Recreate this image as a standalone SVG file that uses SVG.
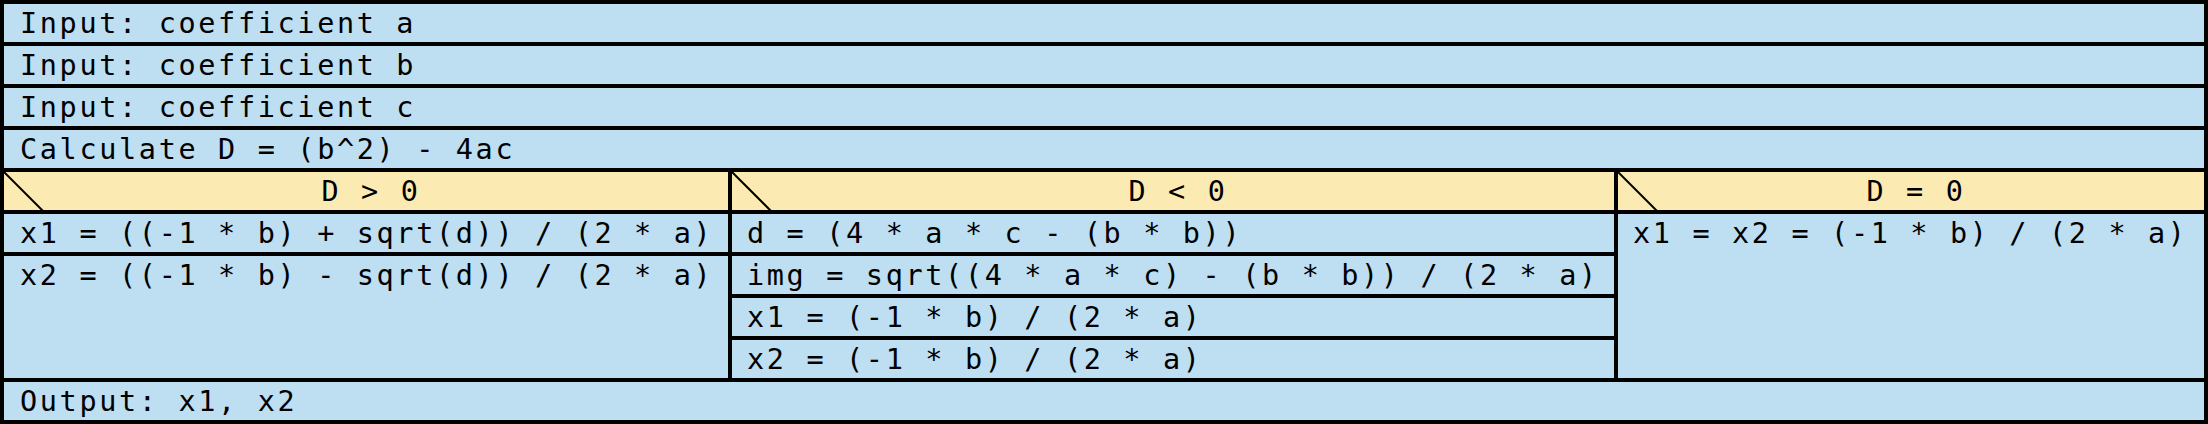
<svg xmlns="http://www.w3.org/2000/svg" width="2208" height="424" viewBox="0 0 2208 424">
<style>
.b{fill:#BEDEF2}
.y{fill:#FBEBB3}
.ln{stroke:#000;stroke-width:4;fill:none}
.dg{stroke:#000;stroke-width:2;fill:none}
text{font-family:"DejaVu Sans Mono","Liberation Mono",monospace;font-size:28.5px;letter-spacing:2.65px;fill:#000}
.c{text-anchor:middle}
</style>
<rect x="0" y="0" width="2208" height="424" class="b"/>
<g id="n1"><rect x="2" y="2" width="2204" height="42" class="b"/><text x="20" y="33">Input: coefficient a</text></g>
<g id="n2"><rect x="2" y="44" width="2204" height="42" class="b"/><text x="20" y="75">Input: coefficient b</text></g>
<g id="n3"><rect x="2" y="86" width="2204" height="42" class="b"/><text x="20" y="117">Input: coefficient c</text></g>
<g id="n4"><rect x="2" y="128" width="2204" height="42" class="b"/><text x="20" y="159">Calculate D = (b^2) - 4ac</text></g>
<g id="h1"><rect x="2" y="170" width="728" height="42" class="y"/><path d="M2 170 L44 212" class="dg"/><text x="371" y="201" class="c">D &gt; 0</text></g>
<g id="h2"><rect x="730" y="170" width="886" height="42" class="y"/><path d="M730 170 L772 212" class="dg"/><text x="1178" y="201" class="c">D &lt; 0</text></g>
<g id="h3"><rect x="1616" y="170" width="590" height="42" class="y"/><path d="M1616 170 L1658 212" class="dg"/><text x="1916" y="201" class="c">D = 0</text></g>
<g id="p1"><text x="20" y="243">x1 = ((-1 * b) + sqrt(d)) / (2 * a)</text></g>
<g id="p2"><text x="20" y="285">x2 = ((-1 * b) - sqrt(d)) / (2 * a)</text></g>
<g id="q1"><text x="747" y="243">d = (4 * a * c - (b * b))</text></g>
<g id="q2"><text x="747" y="285">img = sqrt((4 * a * c) - (b * b)) / (2 * a)</text></g>
<g id="q3"><text x="747" y="327">x1 = (-1 * b) / (2 * a)</text></g>
<g id="q4"><text x="747" y="369">x2 = (-1 * b) / (2 * a)</text></g>
<g id="r1"><text x="1633" y="243">x1 = x2 = (-1 * b) / (2 * a)</text></g>
<g id="n5"><text x="20" y="411">Output: x1, x2</text></g>
<g id="lines">
<rect x="2" y="2" width="2204" height="420" class="ln"/>
<path d="M2 44H2206M2 86H2206M2 128H2206M2 170H2206M2 212H2206M2 380H2206" class="ln"/>
<path d="M730 170V380M1616 170V380" class="ln"/>
<path d="M2 254H730M730 254H1616M730 296H1616M730 338H1616" class="ln"/>
</g>
</svg>
